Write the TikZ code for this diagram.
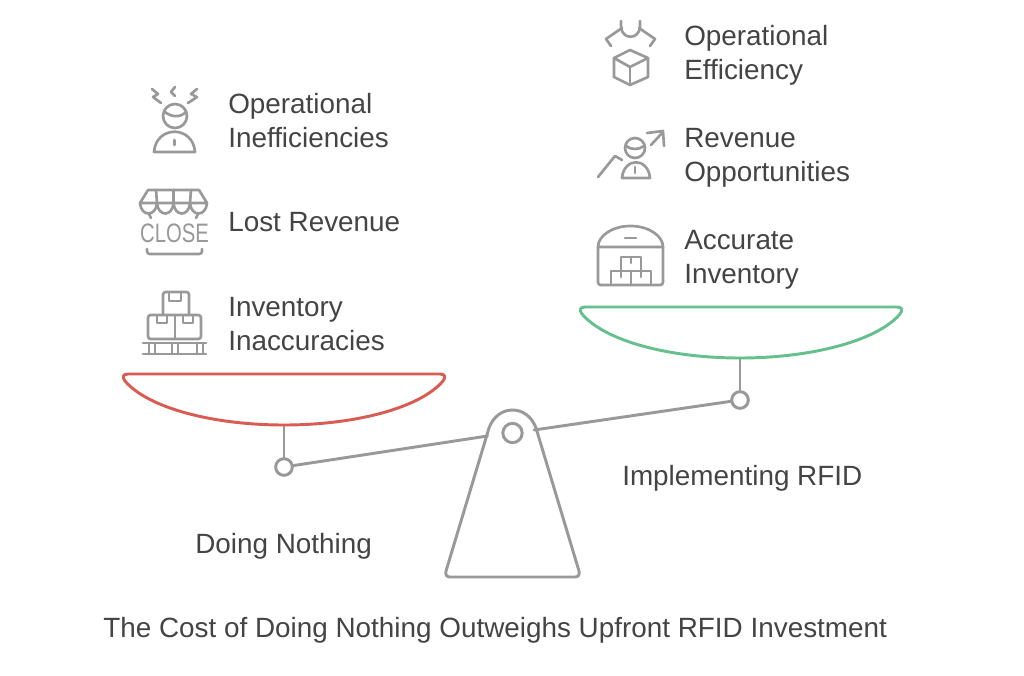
\documentclass[tikz,border=0pt]{standalone}
\usepackage{fontspec}
\setmainfont{Liberation Sans}
\usepackage{xcolor}
\definecolor{scalegray}{RGB}{153,153,153}
\definecolor{labelgray}{RGB}{68,68,68}
\definecolor{panred}{RGB}{217,91,82}
\definecolor{pangreen}{RGB}{102,192,142}
\tikzset{
  label text/.style={anchor=west,inner sep=0pt,text=labelgray,align=left,font=\fontsize{20.9}{25.2}\selectfont},
  icon line/.style={draw=scalegray,line width=2pt,line cap=round,line join=round},
  beam line/.style={draw=scalegray,line width=2.2pt,line cap=round,line join=round},
  pivot/.style={circle,draw=scalegray,line width=2.2pt,fill=white,inner sep=0pt,minimum size=12.5pt},
}

\begin{document}
\begin{tikzpicture}[x=0.75pt,y=0.75pt,yscale=-1,xscale=1]
\useasboundingbox (0,0) rectangle (1024,675);

%Shape: Pivots
\node [pivot] (pivotLeft) at (284,467) {};
\node [pivot] (pivotRight) at (740,400) {};
\node [pivot,minimum size=14.5pt] (pivotMid) at (512.5,433) {};
\coordinate (panLeftBottom) at (284,425);
\coordinate (panRightBottom) at (740,358);
\coordinate (fulcrumLeft) at (487.5,436);
\coordinate (fulcrumRight) at (534,430);
%Straight Lines: posts and beam
\draw [beam line] (panLeftBottom) -- (pivotLeft);
\draw [beam line] (panRightBottom) -- (pivotRight);
\draw [beam line] (pivotLeft) -- (fulcrumLeft);
\draw [beam line] (fulcrumRight) -- (pivotRight);
%Shape: Fulcrum
\draw [beam line] (489,428) .. controls (493,417) and (502,410) .. (512.5,410) .. controls (523,410) and (532,417) .. (536,428) -- (579,571) .. controls (580,575) and (578,577) .. (575,577) -- (450,577) .. controls (447,577) and (445,575) .. (446,571) -- cycle ;
%Shape: Pan left
\draw [draw=panred,line width=2.2pt,line join=round] (128,374) -- (440,374) .. controls (445,374) and (446,377) .. (443,381) .. controls (420,408) and (355,425) .. (284,425) .. controls (213,425) and (148,408) .. (125,381) .. controls (122,377) and (123,374) .. (128,374) -- cycle ;
%Shape: Pan right
\draw [draw=pangreen,line width=2.2pt,line join=round] (585,307) -- (897,307) .. controls (902,307) and (903,310) .. (900,314) .. controls (877,341) and (811,358) .. (740,358) .. controls (669,358) and (605,341) .. (582,314) .. controls (579,310) and (580,307) .. (585,307) -- cycle ;

%Icon: Operational Inefficiencies
\draw [icon line] (175,116) circle [radius=12];
\draw [icon line] (165,112) .. controls (171,117) and (180,118) .. (186,112);
\draw [icon line] (154,152) .. controls (156,125) and (193,125) .. (195,152) -- cycle;
\draw [icon line] (174.5,140) -- (174.5,145);
\draw [icon line] (152,89) -- (158,94) -- (153,97) -- (161,103);
\draw [icon line] (175,87) -- (171,92) -- (175,96);
\draw [icon line] (197,89) -- (191,94) -- (197,97) -- (188,103);

%Icon: Lost Revenue
\draw [icon line] (148,190) -- (199,190) -- (207,203) -- (140,203) -- cycle;
\draw [icon line] (156,190) -- (157,203);
\draw [icon line] (173.5,190) -- (173.5,203);
\draw [icon line] (191,190) -- (190,203);
\foreach \xa/\xb in {140/157,157/173.5,173.5/190,190/207}
  \draw [icon line] (\xa,203) .. controls (\xa+1,217) and (\xb-1,217) .. (\xb,203);
\draw [icon line] (149,214) -- (151,218);
\draw [icon line] (198,214) -- (196,218);
\node [inner sep=0pt,text=scalegray,font=\fontsize{20}{20}\selectfont,xscale=0.76] (closeSign) at (174.5,233) {CLOSE};
\draw [icon line] (147,249) -- (147,251) .. controls (147,253) and (148,254) .. (150,254) -- (199,254) .. controls (201,254) and (202,253) .. (202,251) -- (202,249);

%Icon: Inventory Inaccuracies
\draw [icon line,rounded corners=2pt] (163,315) -- (163,292) -- (189,292) -- (189,315);
\draw [icon line,rounded corners=2pt] (175,339) -- (148,339) -- (148,315) -- (201,315) -- (201,339) -- cycle;
\draw [icon line] (175,315) -- (175,339);
\draw [icon line] (169,293) -- (169,301) -- (181,301) -- (181,293);
\draw [icon line] (157,316) -- (157,323) -- (167,323) -- (167,316);
\draw [icon line] (183,316) -- (183,323) -- (193,323) -- (193,316);
\draw [icon line] (143,343) -- (206,343);
\draw [icon line] (143,354) -- (206,354);
\foreach \xa in {149,155,172,178,197,203}
  \draw [icon line] (\xa,343) -- (\xa,354);

%Icon: Operational Efficiency
\draw [icon line] (621,21) -- (621,27) .. controls (622,40) and (639,40) .. (640,27) -- (640,21);
\draw [icon line] (622,28) -- (606,39) -- (611,46);
\draw [icon line] (639,28) -- (655,39) -- (650,46);
\draw [icon line] (630,50) -- (648,58) -- (648,77) -- (630,85) -- (614,77) -- (614,58) -- cycle;
\draw [icon line] (614,58) -- (630,67) -- (648,58);
\draw [icon line] (630,67) -- (630,85);

%Icon: Revenue Opportunities
\draw [icon line] (635,148) circle [radius=10];
\draw [icon line] (626,146) .. controls (631,150) and (639,150) .. (644,146);
\draw [icon line] (622,178) .. controls (624,157) and (648,157) .. (650,178) -- cycle;
\draw [icon line] (635,167) -- (635,173);
\draw [icon line] (598,177) -- (615,156) -- (622,160);
\draw [icon line] (651,145) -- (663,132);
\draw [icon line] (647,133) -- (663,131) -- (664,146);

%Icon: Accurate Inventory
\draw [icon line,rounded corners=2pt] (598,247) -- (598,285) -- (663,285) -- (663,247);
\draw [icon line] (598,247) .. controls (598,236) and (612,226) .. (630.5,226) .. controls (649,226) and (663,236) .. (663,247) -- cycle;
\draw [icon line] (625,238) -- (636,238);
\draw [icon line] (621,271) -- (621,257) -- (641,257) -- (641,271);
\draw [icon line] (611,285) -- (611,271) -- (651,271) -- (651,285);
\draw [icon line] (631,271) -- (631,285);
\draw [icon line] (631,257) -- (631,263);
\draw [icon line] (621,271) -- (621,277);
\draw [icon line] (641,271) -- (641,277);

%Text labels
\node [label text] (inefficiencies) at (228,120.5) {Operational\\Inefficiencies};
\node [label text] (lostRevenue) at (228,222) {Lost Revenue};
\node [label text] (inaccuracies) at (228,324) {Inventory\\Inaccuracies};
\node [label text] (efficiency) at (684,55.5) {Operational\\Efficiency};
\node [label text] (opportunities) at (684,158) {Revenue\\Opportunities};
\node [label text] (accurate) at (684,259.5) {Accurate\\Inventory};
\node [label text] (doingNothing) at (195,546) {Doing Nothing};
\node [label text] (implementing) at (622,478) {Implementing RFID};
\node [label text] (caption) at (103,630) {The Cost of Doing Nothing Outweighs Upfront RFID Investment};

\end{tikzpicture}
\end{document}
